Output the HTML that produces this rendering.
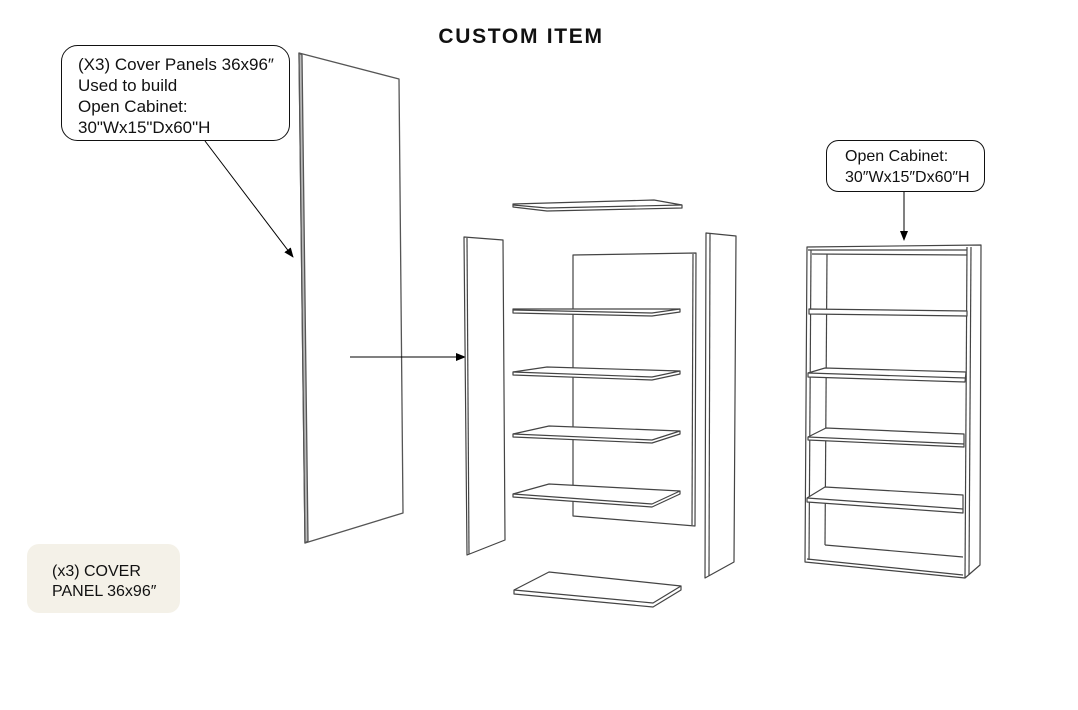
<!DOCTYPE html>
<html>
<head>
<meta charset="utf-8">
<style>
  html,body{margin:0;padding:0;background:#fff;}
  body{width:1078px;height:710px;overflow:hidden;}
  svg{display:block;}
  text{font-family:"Liberation Sans", Arial, sans-serif;fill:#111;}
</style>
</head>
<body>
<svg width="1078" height="710" viewBox="0 0 1078 710" xmlns="http://www.w3.org/2000/svg">
  <defs>
    <marker id="ah" markerWidth="10" markerHeight="8" refX="9" refY="4" orient="auto" markerUnits="userSpaceOnUse">
      <path d="M0,0 L10,4 L0,8 z" fill="#000"/>
    </marker>
  </defs>

  <!-- Title -->
  <text x="521" y="43" text-anchor="middle" font-size="21" font-weight="bold" letter-spacing="1.7">CUSTOM ITEM</text>

  <!-- Callout 1 -->
  <rect x="61.5" y="45.5" width="228" height="95" rx="16" fill="#fff" stroke="#111" stroke-width="1"/>
  <text font-size="17">
    <tspan x="78" y="70">(X3) Cover Panels 36x96″</tspan>
    <tspan x="78" y="91">Used to build</tspan>
    <tspan x="78" y="112">Open Cabinet:</tspan>
    <tspan x="78" y="133">30"Wx15"Dx60"H</tspan>
  </text>

  <!-- Tall cover panel -->
  <g stroke="#555" stroke-width="1.3" fill="#fff" stroke-linejoin="round">
    <polygon points="299,53 399,79 403,513 305,543"/>
    <polygon points="299,53 302,55 308,541 305,543" fill="#bbb"/>
  </g>

  <!-- Arrow 1 -->
  <line x1="205" y1="141" x2="293" y2="257" stroke="#000" stroke-width="1" marker-end="url(#ah)"/>
  <!-- Arrow 2 -->
  <line x1="350" y1="357" x2="465" y2="357" stroke="#000" stroke-width="1" marker-end="url(#ah)"/>

  <!-- Middle exploded group -->
  <g stroke="#444" stroke-width="1.2" fill="#fff" stroke-linejoin="round">
    <!-- back panel -->
    <polygon points="573,255 696,253 695,526 573,516"/>
    <line x1="693" y1="254" x2="692" y2="525"/>
    <!-- left side panel -->
    <polygon points="464,237 503,240 505,540 467,555"/>
    <line x1="467" y1="238" x2="469" y2="554"/>
    <!-- right side panel -->
    <polygon points="706,233 736,236 734,562 705,578"/>
    <line x1="710" y1="234" x2="709" y2="576"/>
    <!-- top piece -->
    <polygon points="513,204 654,200 682,205 682,208 547,211 513,207"/>
    <polyline points="513,205 547,208 682,205" fill="none"/>
    <!-- shelf 1 -->
    <polygon points="513,309 680,309 680,312 652,316 513,313"/>
    <polyline points="513,310 652,313 680,309" fill="none"/>
    <!-- shelf 2 -->
    <polygon points="513,372 547,367 680,371 680,374 652,380 513,375"/>
    <polyline points="513,372 652,377 680,371" fill="none"/>
    <!-- shelf 3 -->
    <polygon points="513,434 549,426 680,431 680,434 652,443 513,437"/>
    <polyline points="513,434 652,440 680,431" fill="none"/>
    <!-- shelf 4 -->
    <polygon points="513,494 549,484 680,491 680,494 652,507 513,497"/>
    <polyline points="513,494 652,504 680,491" fill="none"/>
    <!-- bottom shelf -->
    <polygon points="514,590 549,572 681,586 681,590 653,607 514,594"/>
    <polyline points="514,590 653,603 681,586" fill="none"/>
  </g>

  <!-- Callout 2 -->
  <rect x="826.5" y="140.5" width="158" height="51" rx="12" fill="#fff" stroke="#111" stroke-width="1"/>
  <text font-size="16">
    <tspan x="845" y="161">Open Cabinet:</tspan>
    <tspan x="845" y="182">30″Wx15″Dx60″H</tspan>
  </text>
  <line x1="904" y1="192" x2="904" y2="240" stroke="#000" stroke-width="1" marker-end="url(#ah)"/>

  <!-- Assembled cabinet -->
  <g stroke="#444" stroke-width="1.2" fill="#fff" stroke-linejoin="round">
    <polygon points="807,247 981,245 980,565 965,578 805,562"/>
    <!-- top -->
    <line x1="808" y1="250" x2="967" y2="250"/>
    <line x1="812" y1="254" x2="967" y2="255"/>
    <!-- left side inner -->
    <line x1="811" y1="250" x2="809" y2="560"/>
    <!-- back inner corner -->
    <line x1="827" y1="254" x2="825" y2="545"/>
    <!-- right side front edges -->
    <line x1="967" y1="247" x2="965" y2="578"/>
    <line x1="971" y1="247" x2="969" y2="575"/>
    <!-- shelf at 310 -->
    <polygon points="809,309 967,311 967,316 809,314"/>
    <!-- shelf 2 -->
    <polygon points="825,368 966,372 965,382 808,377 808,373"/>
    <line x1="808" y1="373" x2="966" y2="378"/>
    <!-- shelf 3 -->
    <polygon points="826,428 964,434 964,447 808,440 808,437"/>
    <line x1="808" y1="437" x2="964" y2="444"/>
    <!-- shelf 4 -->
    <polygon points="825,487 963,495 963,513 807,502 807,498"/>
    <line x1="807" y1="498" x2="963" y2="509"/>
    <!-- bottom -->
    <line x1="825" y1="545" x2="963" y2="557"/>
    <line x1="807" y1="559" x2="963" y2="575"/>
  </g>

  <!-- Beige label -->
  <rect x="27" y="544" width="153" height="69" rx="12" fill="#f4f1e8"/>
  <text font-size="16">
    <tspan x="52" y="576">(x3) COVER</tspan>
    <tspan x="52" y="596">PANEL 36x96″</tspan>
  </text>
</svg>
</body>
</html>
